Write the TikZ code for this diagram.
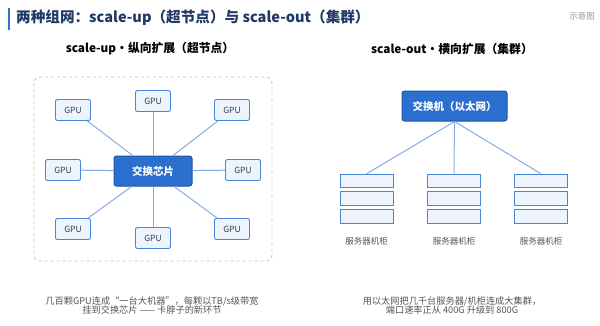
\documentclass[tikz,border=0pt]{standalone}
\usepackage{fontspec}
\setmainfont{Noto Sans CJK SC}
\usepackage{xcolor}
\usetikzlibrary{positioning}
\definecolor{Accent}{HTML}{2F6FD0}
\definecolor{TitleInk}{HTML}{1F3A66}
\definecolor{ChipBlue}{HTML}{2B6FCF}
\definecolor{ChipEdge}{HTML}{1D56A8}
\definecolor{EdgeBlue}{HTML}{4A86D8}
\definecolor{PaleBlue}{HTML}{EDF4FD}
\definecolor{LinkBlue}{HTML}{86ADE3}
\definecolor{Frame}{HTML}{C6C6C6}
\definecolor{Ink}{HTML}{333D4A}
\definecolor{Note}{HTML}{555555}
\definecolor{Tag}{HTML}{9A9A9A}
\tikzset{
  gpubox/.style={draw=EdgeBlue,line width=0.9pt,rounded corners=2pt,fill=PaleBlue,
              minimum width=35pt,minimum height=21pt,inner sep=0pt,
              font=\fontsize{8.5}{10}\selectfont,text=Ink},
  hubbox/.style={draw=ChipEdge,line width=1pt,rounded corners=2.5pt,fill=ChipBlue,
              minimum height=30pt,inner sep=0pt,text=white,
              font=\bfseries\fontsize{10.5}{12}\selectfont},
  unitbox/.style={draw=EdgeBlue,line width=0.9pt,fill=PaleBlue,
              minimum width=53pt,minimum height=13.5pt,inner sep=0pt},
  link/.style={draw=LinkBlue,line width=1pt},
  subhead/.style={font=\bfseries\fontsize{11.8}{14}\selectfont,text=black},
  racklabel/.style={font=\fontsize{8.5}{10}\selectfont,text=Note},
  note/.style={font=\fontsize{9.2}{9.6}\selectfont,align=center,text=Note}
}
\begin{document}
\begin{tikzpicture}[x=1pt,y=-1pt]
  \useasboundingbox[fill=white] (0,0) rectangle (600,325);
  % title
  \fill[Accent] (7.5,8) rectangle (10,30);
  \node[anchor=west,inner sep=0pt,text=TitleInk,font=\bfseries\fontsize{14.6}{17}\selectfont]
    (title) at (16,18) {两种组网：scale-up（超节点）与 scale-out（集群）};
  \node[anchor=east,inner sep=0pt,text=Tag,font=\fontsize{8.5}{10}\selectfont]
    (tag) at (595,16) {示意图};
  % scale-up
  \node[subhead] (uphead) at (150,49) {scale-up・纵向扩展（超节点）};
  \draw[Frame,dashed,line width=0.9pt,rounded corners=6pt] (34,77) rectangle (272,261);
  \node[hubbox,minimum width=78pt] (chip) at (153,171) {交换芯片};
  \node[gpubox] (gpuN)  at (153,101) {GPU};
  \node[gpubox] (gpuNW) at (73,110)  {GPU};
  \node[gpubox] (gpuNE) at (232,110) {GPU};
  \node[gpubox] (gpuW)  at (63,170)  {GPU};
  \node[gpubox] (gpuE)  at (243,170) {GPU};
  \node[gpubox] (gpuSW) at (73,229)  {GPU};
  \node[gpubox] (gpuS)  at (153,238) {GPU};
  \node[gpubox] (gpuSE) at (232,229) {GPU};
  \draw[link] (chip) -- (gpuN);
  \draw[link] (chip) -- (gpuNW);
  \draw[link] (chip) -- (gpuNE);
  \draw[link] (chip) -- (gpuW);
  \draw[link] (chip) -- (gpuE);
  \draw[link] (chip) -- (gpuSW);
  \draw[link] (chip) -- (gpuS);
  \draw[link] (chip) -- (gpuSE);
  \node[note] (upnote) at (152,305.5)
    {几百颗GPU连成“一台大机器”，每颗以TB/s级带宽\\挂到交换芯片 —— 卡脖子的新环节};
  % scale-out
  \node[subhead] (outhead) at (452,49) {scale-out・横向扩展（集群）};
  \node[hubbox,minimum width=105pt] (switch) at (454.5,106) {交换机（以太网）};
  \node[unitbox] (rackL1) at (366.5,181)   {};
  \node[unitbox] (rackL2) at (366.5,198.5) {};
  \node[unitbox] (rackL3) at (366.5,216.5) {};
  \node[unitbox] (rackM1) at (454,181)     {};
  \node[unitbox] (rackM2) at (454,198.5)   {};
  \node[unitbox] (rackM3) at (454,216.5)   {};
  \node[unitbox] (rackR1) at (541,181)     {};
  \node[unitbox] (rackR2) at (541,198.5)   {};
  \node[unitbox] (rackR3) at (541,216.5)   {};
  \node[racklabel] (labL) at (366.5,241) {服务器机柜};
  \node[racklabel] (labM) at (454,241)   {服务器机柜};
  \node[racklabel] (labR) at (541,241)   {服务器机柜};
  \draw[link] (switch.south) -- (rackL1.north);
  \draw[link] (switch.south) -- (rackM1.north);
  \draw[link] (switch.south) -- (rackR1.north);
  \node[note] (outnote) at (452,305.5)
    {用以太网把几千台服务器/机柜连成大集群，\\端口速率正从 400G 升级到 800G};
\end{tikzpicture}
\end{document}
